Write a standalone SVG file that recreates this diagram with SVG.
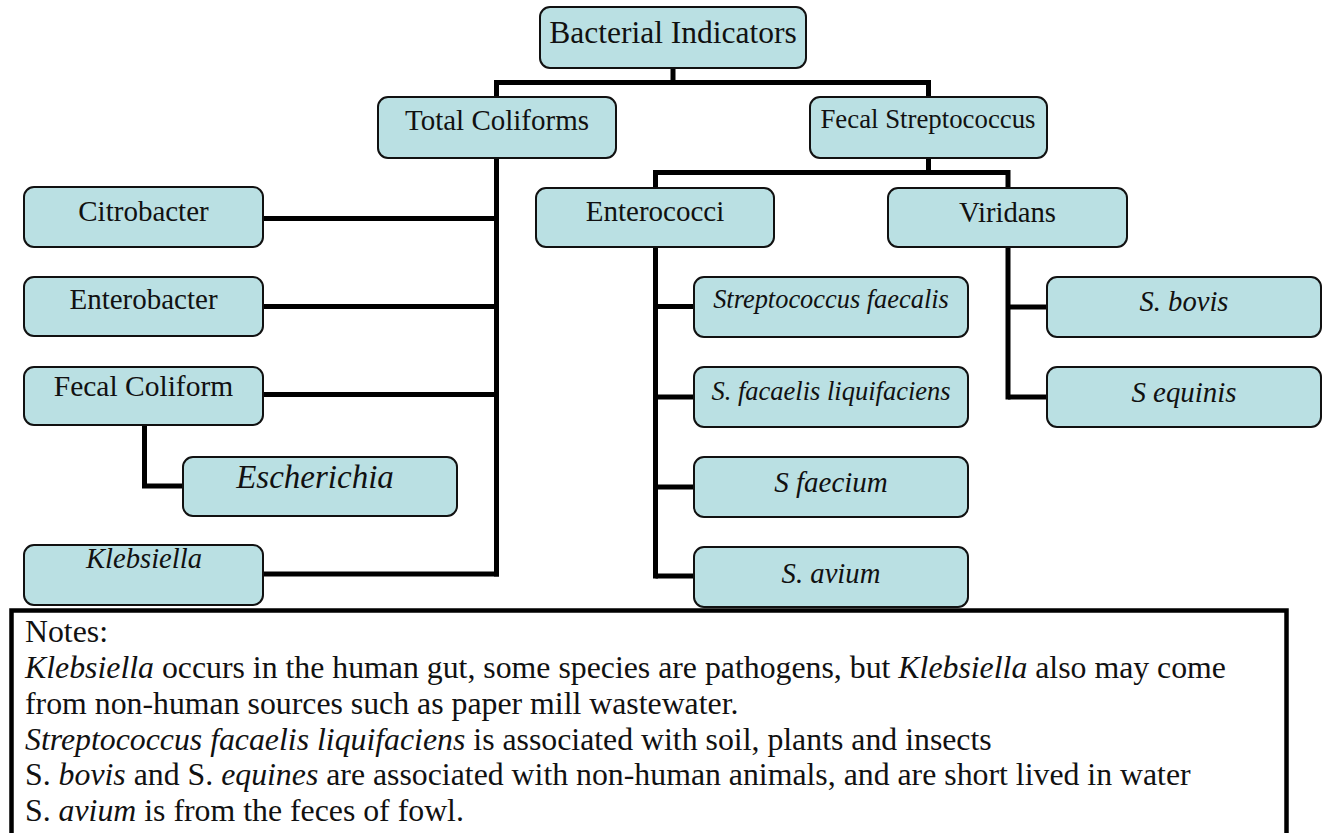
<svg xmlns="http://www.w3.org/2000/svg" width="1323" height="833" viewBox="0 0 1323 833">
<style>
text{font-family:"Liberation Serif","Times New Roman",serif;fill:#111}
.box{fill:#BAE0E3;stroke:#111;stroke-width:2}
.t{text-anchor:middle}
.i{font-style:italic}
.c{fill:none;stroke:#000;stroke-width:5;stroke-linejoin:miter;stroke-linecap:butt}
.n{font-size:31.8px}
</style>
<rect width="1323" height="833" fill="#fff"/>
<g id="connectors" class="c">
<path d="M673 68V82.5"/>
<path d="M496.5 97V82.5H928.5V97"/>
<path d="M496.5 158V576.5"/>
<path d="M263 218.5H499"/>
<path d="M263 306.5H499"/>
<path d="M263 394.5H499"/>
<path d="M263 574H499"/>
<path d="M144.5 425V486H183"/>
<path d="M928.5 158V172.5"/>
<path d="M655.5 188V172.5H1008V188"/>
<path d="M655.5 247V578.5"/>
<path d="M655.5 306.5H694"/>
<path d="M655.5 397H694"/>
<path d="M655.5 487H694"/>
<path d="M655.5 576H694"/>
<path d="M1008 247V399.5"/>
<path d="M1008 307H1047"/>
<path d="M1008 397H1047"/>
</g>
<g id="n-bacterial"><rect class="box" x="540" y="7" width="266" height="61" rx="10"/><text class="t" x="673" y="42.5" font-size="31.5">Bacterial Indicators</text></g>
<g id="n-total"><rect class="box" x="378" y="97" width="238" height="61" rx="10"/><text class="t" x="497" y="130" font-size="29">Total Coliforms</text></g>
<g id="n-fecalstrep"><rect class="box" x="810" y="97" width="237" height="61" rx="10"/><text class="t" x="928" y="128" font-size="26.8">Fecal Streptococcus</text></g>
<g id="n-citro"><rect class="box" x="24" y="187" width="239" height="60" rx="10"/><text class="t" x="143.5" y="221" font-size="29">Citrobacter</text></g>
<g id="n-entero"><rect class="box" x="24" y="277" width="239" height="59" rx="10"/><text class="t" x="143.5" y="309" font-size="29">Enterobacter</text></g>
<g id="n-fecalcoli"><rect class="box" x="24" y="367" width="239" height="58" rx="10"/><text class="t" x="143.5" y="396" font-size="29.5">Fecal Coliform</text></g>
<g id="n-esch"><rect class="box" x="183" y="457" width="274" height="59" rx="10"/><text class="t i" x="315" y="488" font-size="33">Escherichia</text></g>
<g id="n-kleb"><rect class="box" x="24" y="545" width="239" height="60" rx="10"/><text class="t i" x="144" y="568" font-size="28.6">Klebsiella</text></g>
<g id="n-enterococci"><rect class="box" x="536" y="188" width="238" height="59" rx="10"/><text class="t" x="655" y="221" font-size="29">Enterococci</text></g>
<g id="n-viridans"><rect class="box" x="888" y="188" width="239" height="59" rx="10"/><text class="t" x="1007.5" y="222" font-size="28.7">Viridans</text></g>
<g id="n-sfaecalis"><rect class="box" x="694" y="277" width="274" height="60" rx="10"/><text class="t i" x="831" y="308" font-size="26.4">Streptococcus faecalis</text></g>
<g id="n-sliq"><rect class="box" x="694" y="367" width="274" height="60" rx="10"/><text class="t i" x="831" y="400" font-size="26.5">S. facaelis liquifaciens</text></g>
<g id="n-sfaecium"><rect class="box" x="694" y="457" width="274" height="60" rx="10"/><text class="t i" x="831" y="492" font-size="29">S faecium</text></g>
<g id="n-savium"><rect class="box" x="694" y="547" width="274" height="60" rx="10"/><text class="t i" x="831" y="583" font-size="28.7">S. avium</text></g>
<g id="n-sbovis"><rect class="box" x="1047" y="277" width="274" height="60" rx="10"/><text class="t i" x="1184" y="311" font-size="28.6">S. bovis</text></g>
<g id="n-sequinis"><rect class="box" x="1047" y="367" width="274" height="60" rx="10"/><text class="t i" x="1184" y="402" font-size="28.9">S equinis</text></g>
<g id="notes">
<rect x="11.5" y="610.5" width="1275" height="260" fill="#fff" stroke="#000" stroke-width="4.5"/>
<text class="n" x="25" y="642">Notes:</text>
<text class="n" x="25" y="677.5"><tspan class="i">Klebsiella</tspan> occurs in the human gut, some species are pathogens, but <tspan class="i">Klebsiella</tspan> also may come</text>
<text class="n" x="25" y="713.5">from non-human sources such as paper mill wastewater.</text>
<text class="n" x="25" y="749.5"><tspan class="i">Streptococcus facaelis liquifaciens</tspan> is associated with soil, plants and insects</text>
<text class="n" x="25" y="785">S. <tspan class="i">bovis</tspan> and S. <tspan class="i">equines</tspan> are associated with non-human animals, and are short lived in water</text>
<text class="n" x="25" y="820.5">S. <tspan class="i">avium</tspan> is from the feces of fowl.</text>
</g>
</svg>
